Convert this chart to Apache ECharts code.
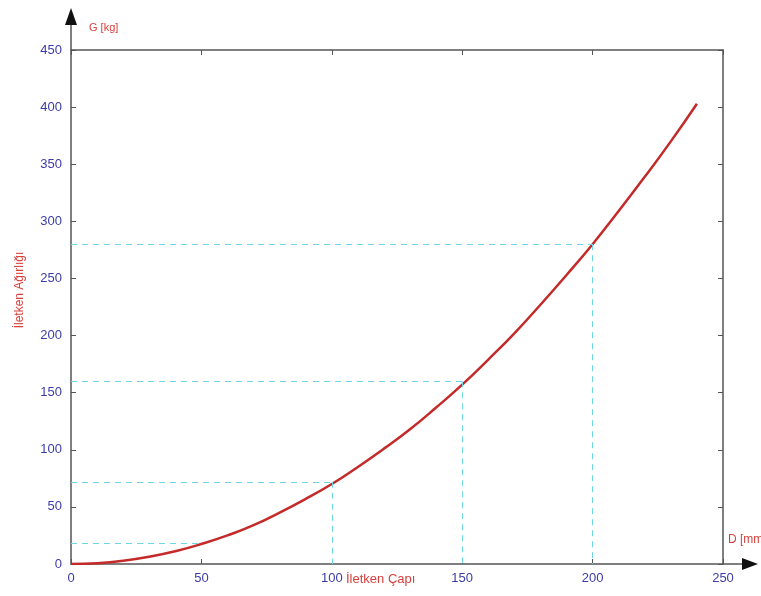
<!DOCTYPE html>
<html>
<head>
<meta charset="utf-8">
<script src="https://cdn.jsdelivr.net/npm/echarts@6/dist/echarts.min.js"></script>
<style>
  html, body { margin: 0; padding: 0; background: #fff; }
  #chart { width: 761px; height: 596px; }
</style>
</head>
<body>
<div id="chart"></div>
<script>
// iletken çapı D [mm] ve ağırlığı G [kg]
var diameters = [0, 10, 20, 30, 40, 50, 60, 70, 80, 90, 100, 110, 120, 130, 140, 150, 160, 170, 180, 190, 200, 210, 220, 230, 240];
var weights = [0, 0.7, 2.8, 6.3, 11.2, 17.5, 25, 34, 45, 57, 70, 85, 101, 118, 137, 157, 179, 202, 227, 253, 280, 309, 339, 370, 403];

// kesikli okuma çizgileri
var refD = [50, 100, 150, 200];
var refG = [18, 72, 160, 280];

var xTicks = [0, 50, 100, 150, 200, 250];
var yTicks = [0, 50, 100, 150, 200, 250, 300, 350, 400, 450];

var blue = '#3c3ca8';
var red = '#d8403c';
var axisGray = '#555';

var curve = diameters.map(function (d, i) { return [d, weights[i]]; });

var refLines = [];
refD.forEach(function (d, i) {
  refLines.push([{ coord: [0, refG[i]] }, { coord: [d, refG[i]] }]);
  if (d > 50) refLines.push([{ coord: [d, refG[i]] }, { coord: [d, 0] }]);
});

// kutu çerçevesi için ikinci eksenler (etiketsiz)
function frameAxis(pos, max) {
  return {
    type: 'value', position: pos, min: 0, max: max, interval: 50,
    axisLine: { show: true, onZero: false, lineStyle: { color: axisGray, width: 1.5 } },
    axisTick: { show: true, inside: true, length: 5, lineStyle: { color: axisGray } },
    axisLabel: { show: false }, splitLine: { show: false }
  };
}

var chart = echarts.init(document.getElementById('chart'));

var option = {
  animation: false,
  backgroundColor: '#fff',
  grid: { left: 71, right: 38, top: 50, bottom: 32 },
  xAxis: [{
    type: 'value', min: xTicks[0], max: xTicks[xTicks.length - 1], interval: 50,
    axisLine: { show: true, onZero: false, lineStyle: { color: axisGray, width: 1.5 } },
    axisTick: { show: true, inside: true, length: 5, lineStyle: { color: axisGray } },
    axisLabel: { color: blue, fontFamily: 'Liberation Sans', fontSize: 13, margin: 8 },
    splitLine: { show: false }
  }, frameAxis('top', 250)],
  yAxis: [{
    type: 'value', min: yTicks[0], max: yTicks[yTicks.length - 1], interval: 50,
    axisLine: { show: true, onZero: false, lineStyle: { color: axisGray, width: 1.5 } },
    axisTick: { show: true, inside: true, length: 5, lineStyle: { color: axisGray } },
    axisLabel: { color: blue, fontFamily: 'Liberation Sans', fontSize: 13, margin: 9 },
    splitLine: { show: false }
  }, frameAxis('right', 450)],
  series: [{
    type: 'line',
    data: curve,
    smooth: true,
    showSymbol: false,
    lineStyle: { color: '#c42a2a', width: 2.5 },
    z: 3,
    markLine: {
      silent: true,
      symbol: ['none', 'none'],
      label: { show: false },
      lineStyle: { color: '#6fd6e6', type: [6, 5], width: 1 },
      data: refLines
    }
  }, {
    // boş seri: ikinci eksenlerin çizilmesi için
    type: 'line', xAxisIndex: 1, yAxisIndex: 1, data: [], showSymbol: false
  }]
};
chart.setOption(option);

// eksen okları ve eksen yazıları
var o = chart.convertToPixel({ xAxisIndex: 0, yAxisIndex: 0 }, [0, 0]);
var xEnd = chart.convertToPixel({ xAxisIndex: 0, yAxisIndex: 0 }, [250, 0]);
var yEnd = chart.convertToPixel({ xAxisIndex: 0, yAxisIndex: 0 }, [0, 450]);
var ax = o[0], ay = o[1];

chart.setOption({
  graphic: [
    { type: 'line', shape: { x1: xEnd[0], y1: ay, x2: 745, y2: ay }, style: { stroke: axisGray, lineWidth: 1.5 } },
    { type: 'polygon', shape: { points: [[742, ay - 6], [758, ay], [742, ay + 6]] }, style: { fill: '#111' } },
    { type: 'line', shape: { x1: ax, y1: yEnd[1], x2: ax, y2: 22 }, style: { stroke: axisGray, lineWidth: 1.5 } },
    { type: 'polygon', shape: { points: [[ax - 6, 25], [ax, 8], [ax + 6, 25]] }, style: { fill: '#111' } },
    { type: 'text', left: ax + 18, top: 22, style: { text: 'G [kg]', fill: red, font: '11px Liberation Sans' } },
    { type: 'text', left: xEnd[0] + 5, top: ay - 30, style: { text: 'D [mm]', fill: red, font: '12px Liberation Sans' } },
    { type: 'text', left: ax + 275, top: ay + 9, style: { text: 'İletken Çapı', fill: red, font: '13px Liberation Sans' } },
    { type: 'text', x: 20, y: 290, rotation: Math.PI / 2, style: { text: 'İletken Ağırlığı', fill: red, font: '12px Liberation Sans', align: 'center', verticalAlign: 'middle' } }
  ]
});
</script>
</body>
</html>
